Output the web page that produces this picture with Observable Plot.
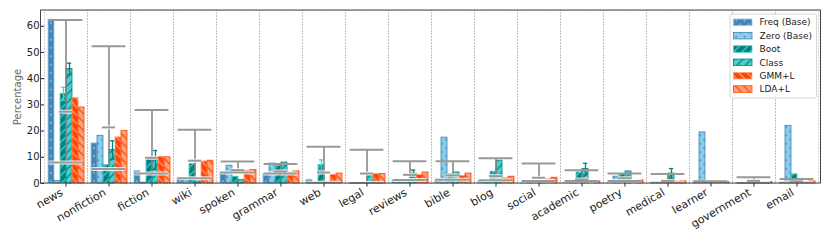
<!DOCTYPE html>
<html><head><meta charset="utf-8">
<script src="https://cdn.jsdelivr.net/npm/d3@7"></script>
<script src="https://cdn.jsdelivr.net/npm/@observablehq/plot@0.6"></script>
<style>body{margin:0;background:#fff} #chart{width:831px;height:243px}</style>
</head><body><div id="chart"></div>
<script>
const categories = ["news","nonfiction","fiction","wiki","spoken","grammar","web","legal","reviews","bible","blog","social","academic","poetry","medical","learner","government","email"];
const seriesNames = ["Freq (Base)","Zero (Base)","Boot","Class","GMM+L","LDA+L"];

const freqBase   = [62.5, 15.3, 4.8, 2.0, 4.2, 3.7, 1.4, 0.2, 1.0, 1.5, 1.0, 0.3, 0.3, 0.3, 0.3, 0.8, 0.1, 0.3];
const zeroBase   = [1.0, 18.2, 0.3, 1.0, 6.8, 7.6, 0.2, 0.1, 0.5, 17.5, 0.3, 0.8, 0.1, 2.6, 0.1, 19.5, 0.3, 22.0];
const boot       = [34.2, 7.0, 9.8, 7.4, 2.6, 6.8, 7.1, 0.3, 1.0, 3.6, 4.5, 0.5, 4.2, 3.6, 0.5, 0.5, 0.2, 3.5];
const classifier = [43.7, 12.8, 9.0, 0.8, 1.3, 8.0, 0.5, 2.8, 3.8, 4.2, 8.7, 1.0, 5.5, 4.6, 3.8, 0.5, 0.2, 0.8];
const gmmL       = [32.6, 17.6, 10.2, 8.4, 4.9, 4.2, 3.3, 3.6, 3.3, 2.9, 2.0, 1.6, 0.8, 0.3, 0.8, 0.5, 0.6, 0.3];
const ldaL       = [29.0, 20.1, 10.0, 8.7, 5.2, 4.6, 3.8, 3.6, 4.2, 3.8, 2.6, 2.2, 0.8, 1.2, 0.8, 0.5, 0.6, 0.8];

const bootErr    = [2.5, 0, 0, 0, 0, 0, 1.9, 0, 0, 0, 0, 0, 0, 0, 0, 0, 0, 0];
const classErr   = [2.2, 3.5, 3.6, 0, 0, 0, 0, 0, 1.3, 0, 0, 0, 2.2, 0, 1.9, 0, 0, 0];

const rangeLow   = [8.0, 5.5, 3.8, 2.0, 4.2, 3.8, 0.3, 0.2, 1.3, 1.4, 1.2, 1.0, 1.0, 1.0, 0.3, 0.4, 0.2, 0.3];
const rangeMid   = [27.4, 21.4, 9.8, 8.7, 5.1, 4.6, 4.2, 3.8, 3.3, 3.1, 2.8, 2.2, 1.5, 2.0, 1.0, 0.6, 1.0, 0.8];
const rangeHigh  = [62.4, 52.4, 28.0, 20.5, 8.4, 7.4, 14.0, 12.9, 8.5, 8.5, 9.6, 7.6, 5.1, 3.8, 3.6, 0.9, 2.4, 1.7];

const yTicks = [0, 10, 20, 30, 40, 50, 60];

const fillColors  = ["#4682b4", "#87ceeb", "#008080", "#48d1cc", "#ff4500", "#ffa07a"];
const hatchColors = ["#87ceeb", "#4682b4", "#48d1cc", "#008080", "#ffa07a", "#ff4500"];
const hatchKinds  = ["dots", "dots", "slash", "slash", "back", "back"];

const valueSets = [freqBase, zeroBase, boot, classifier, gmmL, ldaL];
const errSets = [null, null, bootErr, classErr, null, null];
const bars = [];
categories.forEach((c, i) => seriesNames.forEach((s, j) => bars.push({
  category: c, series: s, k: j, value: valueSets[j][i], err: errSets[j] ? errSets[j][i] : 0
})));
const errs = bars.filter(d => d.err > 0);
const ranges = categories.map((c, i) => ({category: c, low: rangeLow[i], mid: rangeMid[i], high: rangeHigh[i]}));

const chart = Plot.plot({
  width: 831, height: 243,
  marginLeft: 41, marginRight: 10, marginTop: 10, marginBottom: 60,
  style: {fontFamily: "DejaVu Sans", fontSize: "10px", color: "#222", background: "white"},
  fx: {domain: categories, padding: 0},
  x: {domain: seriesNames, paddingInner: 0, paddingOuter: 0.45, axis: null},
  y: {domain: [0, 66]},
  color: {type: "identity"},
  marks: [
    Plot.frame({stroke: "#b0b0b0", strokeDasharray: "1.2,1.8", strokeWidth: 0.9}),
    Plot.barY(bars, {fx: "category", x: "series", y: "value",
      fill: d => `url(#pat${d.k})`, stroke: d => hatchColors[d.k], strokeWidth: 0.8}),
    Plot.ruleX(errs, {fx: "category", x: "series", y1: d => d.value - d.err, y2: d => d.value + d.err,
      stroke: d => hatchColors[d.k], strokeWidth: 1.3}),
    Plot.tickY(errs, {fx: "category", x: "series", y: d => d.value + d.err, inset: 0.8,
      stroke: d => hatchColors[d.k], strokeWidth: 1.3}),
    Plot.tickY(errs, {fx: "category", x: "series", y: d => d.value - d.err, inset: 0.8,
      stroke: d => hatchColors[d.k], strokeWidth: 1.3}),
    Plot.ruleX(ranges, {fx: "category", x: null, y1: "low", y2: "high", stroke: "#808080", strokeWidth: 1.5}),
    Plot.tickY(ranges, {fx: "category", y: "low", inset: 4.6, stroke: "white", strokeWidth: 4, strokeOpacity: 0.8}),
    Plot.tickY(ranges, {fx: "category", y: "mid", inset: 15, stroke: "white", strokeWidth: 4, strokeOpacity: 0.8}),
    Plot.tickY(ranges, {fx: "category", y: "high", inset: 4.6, stroke: "#999", strokeWidth: 2}),
    Plot.tickY(ranges, {fx: "category", y: "low", inset: 4.6, stroke: "#999", strokeWidth: 2}),
    Plot.tickY(ranges, {fx: "category", y: "mid", inset: 15, stroke: "#999", strokeWidth: 2}),
    Plot.axisY({ticks: yTicks, tickSize: 3.5, tickPadding: 1.5, fontSize: 10,
      label: "Percentage", labelAnchor: "center", labelArrow: "none", labelOffset: 31}),
    Plot.axisFx({anchor: "bottom", tickSize: 3.5, tickFormat: () => "", label: null}),
    Plot.axisFx({anchor: "bottom", tickRotate: -30, fontSize: 11, tickSize: 0, tickPadding: 5.5,
      dx: -4, dy: 2.5, label: null})
  ]
});

const svg = chart.tagName.toLowerCase() === "svg" ? chart : chart.querySelector("svg");
const root = d3.select(svg);
const defs = root.insert("defs", ":first-child");
const S = 8.33;
seriesNames.forEach((n, j) => {
  const p = defs.append("pattern").attr("id", "pat" + j)
    .attr("patternUnits", "userSpaceOnUse").attr("width", S).attr("height", S);
  p.append("rect").attr("width", S).attr("height", S).attr("fill", fillColors[j]);
  const hc = hatchColors[j];
  if (hatchKinds[j] === "dots") {
    p.append("circle").attr("cx", S * 0.25).attr("cy", S * 0.25).attr("r", 0.95).attr("fill", hc);
    p.append("circle").attr("cx", S * 0.75).attr("cy", S * 0.75).attr("r", 0.95).attr("fill", hc);
  } else if (hatchKinds[j] === "slash") {
    p.append("path").attr("d", `M-1,1L1,-1M0,${S}L${S},0M${S-1},${S+1}L${S+1},${S-1}`)
      .attr("stroke", hc).attr("stroke-width", 1.2);
  } else {
    p.append("path").attr("d", `M0,0L${S},${S}M-1,${S-1}L1,${S+1}M${S-1},-1L${S+1},1`)
      .attr("stroke", hc).attr("stroke-width", 1.2);
  }
});

root.select('[aria-label="y-axis label"]').attr("fill", "#666");

// outer axes frame
root.append("rect").attr("x", 40.5).attr("y", 10).attr("width", 780).attr("height", 173)
  .attr("fill", "none").attr("stroke", "#444").attr("stroke-width", 1);

// legend
const lg = root.append("g").attr("transform", "translate(730,14)")
  .attr("font-family", "DejaVu Sans").attr("font-size", 9).attr("text-anchor", "start");
lg.append("rect").attr("width", 86.5).attr("height", 84).attr("rx", 2)
  .attr("fill", "white").attr("fill-opacity", 0.85).attr("stroke", "#ccc").attr("stroke-width", 0.8);
seriesNames.forEach((n, j) => {
  const cy = 8.3 + 13.35 * j;
  lg.append("rect").attr("x", 3.5).attr("y", cy - 3.3).attr("width", 18.5).attr("height", 6.6)
    .attr("fill", `url(#pat${j})`).attr("stroke", hatchColors[j]).attr("stroke-width", 0.8);
  lg.append("text").attr("x", 29.5).attr("y", cy).attr("dy", "0.35em").attr("fill", "#222")
    .attr("text-anchor", "start").text(n);
});

document.getElementById("chart").appendChild(chart);
</script>
</body></html>
